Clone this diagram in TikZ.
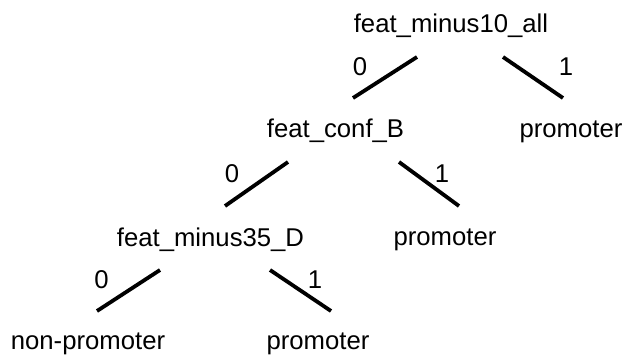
\documentclass[tikz,border=0pt]{standalone}
\usepackage{fontspec}
\setmainfont{Liberation Sans}
\begin{document}
\begin{tikzpicture}[x=1pt,y=-1pt,
  lbl/.style={anchor=base,inner sep=0pt,font=\fontsize{25.7}{30}\selectfont},
  edge/.style={line width=3.8pt,black}]
\useasboundingbox (0,0) rectangle (624,356);
% nodes
\node[lbl] (root) at (451,32) {feat\_minus10\_all};
\node[lbl] (p1) at (571,137) {promoter};
\node[lbl] (confB) at (335.5,137) {feat\_conf\_B};
\node[lbl] (p2) at (445,245) {promoter};
\node[lbl] (m35) at (210.5,246) {feat\_minus35\_D};
\node[lbl] (np) at (88,349) {non-promoter};
\node[lbl] (p3) at (318,349) {promoter};
% edge labels
\node[lbl] (l0a) at (360,75) {0};
\node[lbl] (l1a) at (566,75) {1};
\node[lbl] (l0b) at (232,182) {0};
\node[lbl] (l1b) at (442,182) {1};
\node[lbl] (l0c) at (101.5,288) {0};
\node[lbl] (l1c) at (315,288) {1};
% edge end points
\coordinate (a0s) at (417,57); \coordinate (a0e) at (353,98);
\coordinate (a1s) at (503,57); \coordinate (a1e) at (563,98);
\coordinate (b0s) at (288,162); \coordinate (b0e) at (225,206);
\coordinate (b1s) at (399,162); \coordinate (b1e) at (459,206);
\coordinate (c0s) at (160,270); \coordinate (c0e) at (97,311);
\coordinate (c1s) at (270,270); \coordinate (c1e) at (331,311);
\draw[edge] (a0s) -- (a0e);
\draw[edge] (a1s) -- (a1e);
\draw[edge] (b0s) -- (b0e);
\draw[edge] (b1s) -- (b1e);
\draw[edge] (c0s) -- (c0e);
\draw[edge] (c1s) -- (c1e);
\end{tikzpicture}
\end{document}
